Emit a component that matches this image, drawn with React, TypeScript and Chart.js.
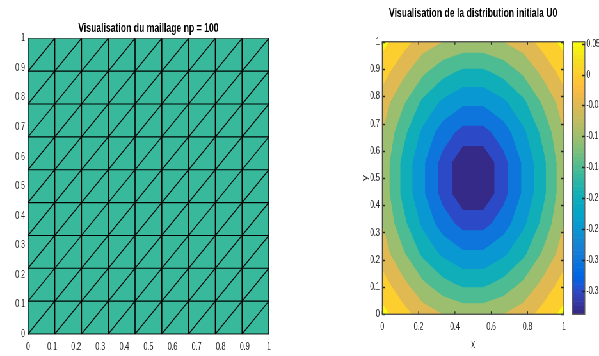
import React, { useEffect, useRef } from 'react';
import { Chart, registerables } from 'chart.js';

Chart.register(...registerables);

// ---------- data ----------
const meshNodes = [0, 1 / 9, 2 / 9, 3 / 9, 4 / 9, 5 / 9, 6 / 9, 7 / 9, 8 / 9, 1];

// U0 sampled on the 10 x 10 mesh nodes, rows from y = 0 (bottom) to y = 1 (top)
const u0Row0 = [0.065, 0.022, -0.025, -0.05, -0.066, -0.066, -0.05, -0.025, 0.022, 0.065];
const u0Row1 = [0.022, -0.035, -0.09, -0.133, -0.16, -0.16, -0.133, -0.09, -0.035, 0.022];
const u0Row2 = [-0.025, -0.09, -0.16, -0.21, -0.241, -0.241, -0.21, -0.16, -0.09, -0.025];
const u0Row3 = [-0.05, -0.133, -0.21, -0.275, -0.317, -0.317, -0.275, -0.21, -0.133, -0.05];
const u0Row4 = [-0.066, -0.16, -0.241, -0.317, -0.391, -0.391, -0.317, -0.241, -0.16, -0.066];
const u0Row5 = [-0.066, -0.16, -0.241, -0.317, -0.391, -0.391, -0.317, -0.241, -0.16, -0.066];
const u0Row6 = [-0.05, -0.133, -0.21, -0.275, -0.317, -0.317, -0.275, -0.21, -0.133, -0.05];
const u0Row7 = [-0.025, -0.09, -0.16, -0.21, -0.241, -0.241, -0.21, -0.16, -0.09, -0.025];
const u0Row8 = [0.022, -0.035, -0.09, -0.133, -0.16, -0.16, -0.133, -0.09, -0.035, 0.022];
const u0Row9 = [0.065, 0.022, -0.025, -0.05, -0.066, -0.066, -0.05, -0.025, 0.022, 0.065];
const u0Grid = [u0Row0, u0Row1, u0Row2, u0Row3, u0Row4, u0Row5, u0Row6, u0Row7, u0Row8, u0Row9];

const contourLevels = [-0.35, -0.3, -0.25, -0.2, -0.15, -0.1, -0.05, 0, 0.05];
const colorbarMin = -0.388;
const colorbarMax = 0.053;

const leftTitle = 'Visualisation du maillage np = 100';
const rightTitle = 'Visualisation de la distribution initiala U0';

// parula colormap (64 entries)
const PARULA = [
  [0.2081, 0.1663, 0.5292], [0.2116, 0.1898, 0.5777], [0.2123, 0.2138, 0.627], [0.2081, 0.2386, 0.6771],
  [0.1959, 0.2645, 0.7279], [0.1707, 0.2919, 0.7792], [0.1253, 0.3242, 0.8303], [0.0591, 0.3598, 0.8683],
  [0.0117, 0.3875, 0.882], [0.006, 0.4086, 0.8828], [0.0165, 0.4266, 0.8786], [0.0329, 0.443, 0.872],
  [0.0498, 0.4586, 0.8641], [0.0629, 0.4737, 0.8554], [0.0723, 0.4887, 0.8467], [0.0779, 0.504, 0.8384],
  [0.0793, 0.52, 0.8312], [0.0749, 0.5375, 0.8263], [0.0641, 0.557, 0.824], [0.0488, 0.5772, 0.8228],
  [0.0343, 0.5966, 0.8199], [0.0265, 0.6137, 0.8135], [0.0239, 0.6287, 0.8038], [0.0231, 0.6418, 0.7913],
  [0.0228, 0.6535, 0.7768], [0.0267, 0.6642, 0.7607], [0.0384, 0.6743, 0.7436], [0.059, 0.6838, 0.7254],
  [0.0843, 0.6928, 0.7062], [0.1133, 0.7015, 0.6859], [0.1453, 0.7098, 0.6646], [0.1801, 0.7177, 0.6424],
  [0.2178, 0.725, 0.6193], [0.2586, 0.7317, 0.5954], [0.3022, 0.7376, 0.5712], [0.3482, 0.7424, 0.5473],
  [0.3953, 0.7459, 0.5244], [0.442, 0.7481, 0.5033], [0.4871, 0.7491, 0.484], [0.53, 0.7491, 0.4661],
  [0.5709, 0.7485, 0.4494], [0.6099, 0.7473, 0.4337], [0.6473, 0.7456, 0.4188], [0.6834, 0.7435, 0.4044],
  [0.7184, 0.7411, 0.3905], [0.7525, 0.7384, 0.3768], [0.7858, 0.7356, 0.3633], [0.8185, 0.7327, 0.3498],
  [0.8507, 0.7299, 0.336], [0.8824, 0.7274, 0.3217], [0.9139, 0.7258, 0.3063], [0.945, 0.7261, 0.2886],
  [0.9739, 0.7314, 0.2666], [0.9938, 0.7455, 0.2403], [0.999, 0.7653, 0.2164], [0.9955, 0.7861, 0.1967],
  [0.988, 0.8066, 0.1794], [0.9789, 0.8271, 0.1633], [0.9697, 0.8481, 0.1475], [0.9626, 0.8705, 0.1309],
  [0.9589, 0.8949, 0.1132], [0.9598, 0.9218, 0.0948], [0.9661, 0.9514, 0.0755], [0.9763, 0.9831, 0.0538],
];

// ---------- styling / layout ----------
const S = 0.64; // the reference is squeezed horizontally
const FONT = "'Liberation Sans', Arial, Helvetica, sans-serif";
const TICK_COLOR = '#262626';
const AXIS_COLOR = '#262626';
const MESH_FILL = 'rgb(56,185,155)';

const LW = Math.round(300 / S);
const RW = Math.round(299 / S);
const RL = LW * S; // real x of right canvas

const px = (real: number) => real / S;

function parulaColor(v: number) {
  const t = (v - colorbarMin) / (colorbarMax - colorbarMin);
  let idx = Math.floor(t * 64);
  idx = Math.max(0, Math.min(63, idx));
  const c = PARULA[idx];
  return `rgb(${Math.round(c[0] * 255)},${Math.round(c[1] * 255)},${Math.round(c[2] * 255)})`;
}

const fmt = (v: number) => String(Math.round(v * 100) / 100);

type P = { x: number; y: number; v: number };
function clipPoly(pts: P[], L: number): P[] {
  const out: P[] = [];
  for (let k = 0; k < pts.length; k++) {
    const a = pts[k];
    const b = pts[(k + 1) % pts.length];
    const ain = a.v >= L;
    const bin = b.v >= L;
    if (ain) out.push(a);
    if (ain !== bin) {
      const t = (L - a.v) / (b.v - a.v);
      out.push({ x: a.x + t * (b.x - a.x), y: a.y + t * (b.y - a.y), v: L });
    }
  }
  return out;
}

function titlePlugin(id: string, text: string, y: number) {
  return {
    id,
    afterDraw(chart: any) {
      const { ctx, chartArea } = chart;
      ctx.save();
      ctx.font = `bold 13.5px ${FONT}`;
      ctx.fillStyle = '#000';
      ctx.textAlign = 'center';
      ctx.textBaseline = 'middle';
      ctx.fillText(text, (chartArea.left + chartArea.right) / 2, y);
      ctx.restore();
    },
  };
}

const contourPlugin = {
  id: 'contourFill',
  beforeDatasetsDraw(chart: any) {
    const { ctx, chartArea } = chart;
    const xs = chart.scales.x;
    const ys = chart.scales.y;
    ctx.save();
    ctx.beginPath();
    ctx.rect(chartArea.left, chartArea.top, chartArea.right - chartArea.left, chartArea.bottom - chartArea.top);
    ctx.clip();
    ctx.fillStyle = parulaColor(colorbarMin);
    ctx.fillRect(chartArea.left, chartArea.top, chartArea.right - chartArea.left, chartArea.bottom - chartArea.top);
    const n = meshNodes.length;
    for (const L of contourLevels) {
      ctx.beginPath();
      for (let j = 0; j < n - 1; j++) {
        for (let i = 0; i < n - 1; i++) {
          const cell: P[] = [
            { x: meshNodes[i], y: meshNodes[j], v: u0Grid[j][i] },
            { x: meshNodes[i + 1], y: meshNodes[j], v: u0Grid[j][i + 1] },
            { x: meshNodes[i + 1], y: meshNodes[j + 1], v: u0Grid[j + 1][i + 1] },
            { x: meshNodes[i], y: meshNodes[j + 1], v: u0Grid[j + 1][i] },
          ];
          const poly = clipPoly(cell, L);
          if (poly.length < 3) continue;
          poly.forEach((p, k) => {
            const X = xs.getPixelForValue(p.x);
            const Y = ys.getPixelForValue(p.y);
            if (k === 0) ctx.moveTo(X, Y);
            else ctx.lineTo(X, Y);
          });
          ctx.closePath();
        }
      }
      ctx.fillStyle = parulaColor(L);
      ctx.fill();
    }
    ctx.restore();
  },
};

const framePlugin = {
  id: 'frameTicks',
  afterDatasetsDraw(chart: any) {
    const { ctx, chartArea } = chart;
    const xs = chart.scales.x;
    const ys = chart.scales.y;
    const { left, right, top, bottom } = chartArea;
    ctx.save();
    ctx.strokeStyle = AXIS_COLOR;
    ctx.lineWidth = 1.3;
    ctx.beginPath();
    xs.ticks.forEach((t: any) => {
      const X = xs.getPixelForValue(t.value);
      ctx.moveTo(X, bottom);
      ctx.lineTo(X, bottom - 3);
      ctx.moveTo(X, top);
      ctx.lineTo(X, top + 3);
    });
    ys.ticks.forEach((t: any) => {
      const Y = Math.round(ys.getPixelForValue(t.value)) + 0.5;
      ctx.moveTo(left, Y);
      ctx.lineTo(left + px(3), Y);
      ctx.moveTo(right, Y);
      ctx.lineTo(right - px(3), Y);
    });
    ctx.stroke();
    ctx.strokeStyle = '#4a4a4a';
    ctx.lineWidth = 1.3;
    ctx.strokeRect(left, top, right - left, bottom - top);
    ctx.restore();
  },
};

const colorbarPlugin = {
  id: 'colorbar',
  afterDraw(chart: any) {
    const { ctx } = chart;
    const cb = chart.scales.cb;
    const x0 = cb.left + px(8.7);
    const x1 = cb.left + px(21);
    ctx.save();
    for (let k = 0; k < 64; k++) {
      const v0 = colorbarMin + (k * (colorbarMax - colorbarMin)) / 64;
      const v1 = colorbarMin + ((k + 1) * (colorbarMax - colorbarMin)) / 64;
      const y0 = cb.getPixelForValue(v1);
      const y1 = cb.getPixelForValue(v0);
      const c = PARULA[k];
      ctx.fillStyle = `rgb(${Math.round(c[0] * 255)},${Math.round(c[1] * 255)},${Math.round(c[2] * 255)})`;
      ctx.fillRect(x0, y0 - 0.3, x1 - x0, y1 - y0 + 0.6);
    }
    ctx.strokeStyle = '#5a5a5a';
    ctx.lineWidth = 1.3;
    ctx.strokeRect(x0, cb.top, x1 - x0, cb.bottom - cb.top);
    ctx.strokeStyle = AXIS_COLOR;
    ctx.beginPath();
    cb.ticks.forEach((t: any) => {
      const Y = Math.round(cb.getPixelForValue(t.value)) + 0.5;
      ctx.moveTo(x1, Y);
      ctx.lineTo(x1 - px(2.5), Y);
    });
    ctx.stroke();
    ctx.restore();
  },
};

function meshDatasets() {
  const segs: { pts: { x: number; y: number }[]; w: number }[] = [];
  meshNodes.forEach((v) => {
    segs.push({ pts: [{ x: 0, y: v }, { x: 1, y: v }], w: 1.1 });
    segs.push({ pts: [{ x: v, y: 0 }, { x: v, y: 1 }], w: 1.6 });
  });
  const n = meshNodes.length - 1;
  for (let k = 0; k < n; k++) {
    segs.push({ pts: [{ x: meshNodes[k], y: 0 }, { x: 1, y: meshNodes[n - k] }], w: 1.2 });
  }
  for (let k = 1; k < n; k++) {
    segs.push({ pts: [{ x: 0, y: meshNodes[k] }, { x: meshNodes[n - k], y: 1 }], w: 1.2 });
  }
  const lines = segs.map((s) => ({
    data: s.pts,
    showLine: true,
    borderColor: '#000',
    borderWidth: s.w,
    pointRadius: 0,
    fill: false,
    order: 1,
  }));
  const face = {
    data: [{ x: 0, y: 1 }, { x: 1, y: 1 }],
    showLine: true,
    borderWidth: 0,
    borderColor: 'rgba(0,0,0,0)',
    backgroundColor: MESH_FILL,
    pointRadius: 0,
    fill: { value: 0 },
    order: 5,
  };
  return [face, ...lines];
}

const tickFont = { family: FONT, size: 11 };

export default function App() {
  const leftRef = useRef<HTMLCanvasElement>(null);
  const rightRef = useRef<HTMLCanvasElement>(null);

  useEffect(() => {
    const left = new Chart(leftRef.current as HTMLCanvasElement, {
      type: 'scatter',
      data: { datasets: meshDatasets() as any },
      options: {
        responsive: false,
        animation: false,
        devicePixelRatio: 1,
        layout: { padding: { left: 0, right: px(300 - 268.7), top: 38.3, bottom: 0 } },
        plugins: { legend: { display: false }, tooltip: { enabled: false } },
        scales: {
          x: {
            type: 'linear',
            min: 0,
            max: 1,
            ticks: { stepSize: 0.1, autoSkip: false, maxRotation: 0, padding: 6.5, font: tickFont, color: TICK_COLOR, callback: (v: any) => fmt(Number(v)) },
            grid: { display: false, drawTicks: false },
            border: { display: true, color: AXIS_COLOR, width: 1.5 },
            afterFit: (s: any) => { s.height = 356 - 334; },
          },
          y: {
            type: 'linear',
            min: 0,
            max: 1,
            ticks: { stepSize: 0.1, autoSkip: false, padding: px(3), font: tickFont, color: TICK_COLOR, callback: (v: any) => fmt(Number(v)) },
            grid: { display: false, drawTicks: false },
            border: { display: true, color: AXIS_COLOR, width: 1.5 },
            afterFit: (s: any) => { s.width = px(28); },
          },
        },
      },
      plugins: [titlePlugin('leftTitle', leftTitle, 28.3)],
    } as any);

    const right = new Chart(rightRef.current as HTMLCanvasElement, {
      type: 'scatter',
      data: { datasets: [] },
      options: {
        responsive: false,
        animation: false,
        devicePixelRatio: 1,
        layout: { padding: { left: 0, right: 0, top: 22, bottom: 0 } },
        plugins: { legend: { display: false }, tooltip: { enabled: false } },
        scales: {
          x: {
            type: 'linear',
            position: 'bottom',
            min: 0,
            max: 1,
            ticks: { stepSize: 0.2, autoSkip: false, maxRotation: 0, padding: 6.5, font: tickFont, color: TICK_COLOR, callback: (v: any) => fmt(Number(v)) },
            grid: { display: false, drawTicks: false },
            border: { display: false },
            title: { display: true, text: 'x', color: TICK_COLOR, font: { family: FONT, size: 12 }, padding: { top: 0, bottom: 1.5 } },
            afterFit: (s: any) => { s.height = 356 - 317; },
          },
          y: {
            type: 'linear',
            position: 'left',
            min: 0,
            max: 1,
            ticks: { stepSize: 0.1, autoSkip: false, padding: px(2.5), font: tickFont, color: TICK_COLOR, callback: (v: any) => fmt(Number(v)) },
            grid: { display: false, drawTicks: false },
            border: { display: false },
            title: { display: true, text: 'y', color: TICK_COLOR, font: { family: FONT, size: 12 }, padding: { top: px(365 - RL) - 7.2, bottom: 0 } },
            afterFit: (s: any) => { s.width = px(382.3 - RL); },
          },
          cb: {
            type: 'linear',
            axis: 'y',
            position: 'right',
            min: colorbarMin,
            max: colorbarMax,
            ticks: { stepSize: 0.05, includeBounds: false, autoSkip: false, padding: px(22.5), font: tickFont, color: TICK_COLOR, callback: (v: any) => fmt(Number(v)) },
            grid: { display: false, drawTicks: false },
            border: { display: false },
            afterFit: (s: any) => { s.width = px(RL + 299 - 564); },
          },
        },
      },
      plugins: [contourPlugin, framePlugin, colorbarPlugin, titlePlugin('rightTitle', rightTitle, 13.3)],
    } as any);

    return () => {
      left.destroy();
      right.destroy();
    };
  }, []);

  return (
    <div style={{ position: 'fixed', left: 0, top: 0, width: 599, height: 356, overflow: 'hidden', background: '#fff' }}>
      <div
        style={{
          position: 'absolute',
          left: 0,
          top: 0,
          width: LW + RW,
          height: 356,
          transform: `scaleX(${S})`,
          transformOrigin: '0 0',
        }}
      >
        <canvas ref={leftRef} width={LW} height={356} style={{ position: 'absolute', left: 0, top: 0, width: LW, height: 356 }} />
        <canvas ref={rightRef} width={RW} height={356} style={{ position: 'absolute', left: LW, top: 0, width: RW, height: 356 }} />
      </div>
    </div>
  );
}
